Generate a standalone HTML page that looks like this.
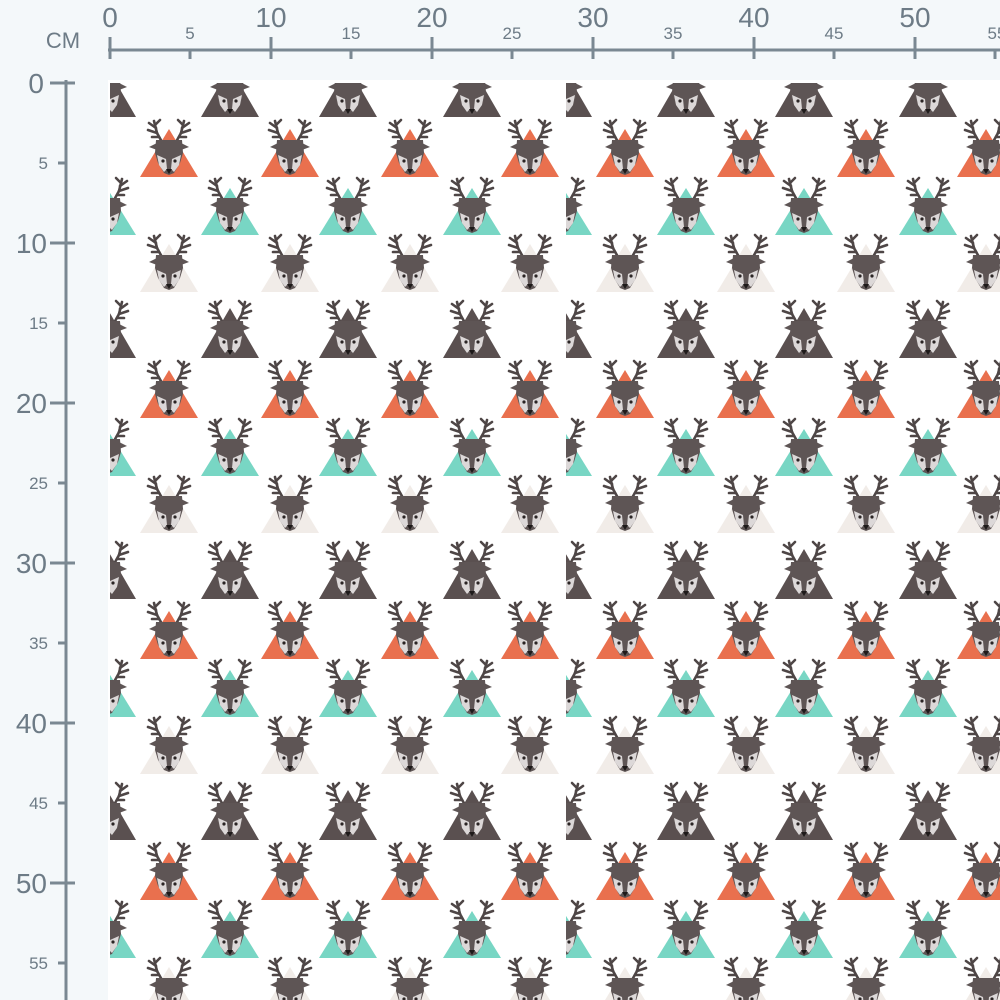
<!DOCTYPE html>
<html><head><meta charset="utf-8"><style>
html,body{margin:0;padding:0;background:#f4f8fa;}
svg{display:block}
text{font-family:"Liberation Sans",sans-serif;fill:#6d7b86}
</style></head><body>
<svg width="1000" height="1000" viewBox="0 0 1000 1000" xmlns="http://www.w3.org/2000/svg">
<defs>
<g id="ant" fill="none" stroke="#4e4646" stroke-width="2.6" stroke-linecap="round">
<path d="M-7,-35 L-12,-44 L-15,-56"/>
<path d="M-12,-44 L-21,-47"/>
<path d="M-13,-49 L-20,-54"/>
<path d="M-14,-52 L-9,-57"/>
<path d="M-10,-40 L-17,-40"/>
</g>
<g id="deer">
<use href="#ant"/>
<use href="#ant" transform="scale(-1,1)"/>
<polygon points="-13,-37 13,-37 14,-24 11,-14 5,-4 0,-2 -5,-4 -11,-14 -14,-24" fill="#5e5555"/>
<polygon points="-12,-34 -20,-30 -12,-27" fill="#5e5555"/>
<polygon points="12,-34 20,-30 12,-27" fill="#5e5555"/>
<polygon points="-12,-22 -3,-18 -2,-8 -5,-5 -10,-12" fill="#dcd8d8"/>
<polygon points="12,-22 3,-18 2,-8 5,-5 10,-12" fill="#dcd8d8"/>
<circle cx="-6" cy="-16" r="1.6" fill="#2a2424"/>
<circle cx="6" cy="-16" r="1.6" fill="#2a2424"/>
<polygon points="-3,-8 3,-8 0,-3" fill="#1e1a1a"/>
</g>
<g id="tD"><polygon points="0,-50 -29,0 29,0" fill="#5a5050"/><use href="#deer"/></g>
<g id="tO"><polygon points="0,-48 -29,0 29,0" fill="#e9704e"/><use href="#deer"/></g>
<g id="tT"><polygon points="0,-47 -29,0 29,0" fill="#78d6c4"/><use href="#deer"/></g>
<g id="tL"><polygon points="0,-48 -29,0 29,0" fill="#f1ece8"/><use href="#deer"/></g>
<pattern id="p" x="110" y="67" width="456" height="241" patternUnits="userSpaceOnUse">
<rect width="456" height="241" fill="#fff"/>
<use href="#tD" x="-3" y="50"/><use href="#tD" x="120" y="50"/><use href="#tD" x="238" y="50"/><use href="#tD" x="362" y="50"/>
<use href="#tO" x="59" y="110"/><use href="#tO" x="180" y="110"/><use href="#tO" x="300" y="110"/><use href="#tO" x="420" y="110"/>
<use href="#tT" x="-3" y="168"/><use href="#tT" x="120" y="168"/><use href="#tT" x="238" y="168"/><use href="#tT" x="362" y="168"/>
<use href="#tL" x="59" y="225"/><use href="#tL" x="180" y="225"/><use href="#tL" x="300" y="225"/><use href="#tL" x="420" y="225"/>
<use href="#tD" x="-3" y="291"/><use href="#tD" x="120" y="291"/><use href="#tD" x="238" y="291"/><use href="#tD" x="362" y="291"/>
</pattern>
</defs>
<rect x="0" y="0" width="1000" height="1000" fill="#f4f8fa"/>
<rect x="108" y="80" width="892" height="920" fill="#fff"/>
<rect x="110" y="83" width="890" height="917" fill="url(#p)"/>
<g stroke="#7a8892" stroke-width="3">
<line x1="108" y1="50" x2="1000" y2="50"/>
<line x1="110" y1="37" x2="110" y2="59"/>
<line x1="271" y1="37" x2="271" y2="59"/>
<line x1="432" y1="37" x2="432" y2="59"/>
<line x1="593" y1="37" x2="593" y2="59"/>
<line x1="754" y1="37" x2="754" y2="59"/>
<line x1="915" y1="37" x2="915" y2="59"/>
<line x1="190" y1="50" x2="190" y2="59"/>
<line x1="351" y1="50" x2="351" y2="59"/>
<line x1="512" y1="50" x2="512" y2="59"/>
<line x1="673" y1="50" x2="673" y2="59"/>
<line x1="834" y1="50" x2="834" y2="59"/>
<line x1="995" y1="50" x2="995" y2="59"/>
<line x1="66" y1="80" x2="66" y2="1000"/>
<line x1="50" y1="83" x2="75" y2="83"/>
<line x1="50" y1="243" x2="75" y2="243"/>
<line x1="50" y1="403" x2="75" y2="403"/>
<line x1="50" y1="563" x2="75" y2="563"/>
<line x1="50" y1="723" x2="75" y2="723"/>
<line x1="50" y1="883" x2="75" y2="883"/>
<line x1="58" y1="163" x2="66" y2="163"/>
<line x1="58" y1="323" x2="66" y2="323"/>
<line x1="58" y1="483" x2="66" y2="483"/>
<line x1="58" y1="643" x2="66" y2="643"/>
<line x1="58" y1="803" x2="66" y2="803"/>
<line x1="58" y1="963" x2="66" y2="963"/>
</g>
<g font-size="28" text-anchor="middle">
<text x="110" y="27">0</text><text x="271" y="27">10</text><text x="432" y="27">20</text>
<text x="593" y="27">30</text><text x="754" y="27">40</text><text x="915" y="27">50</text>
</g>
<g font-size="17" text-anchor="middle">
<text x="190" y="39">5</text><text x="351" y="39">15</text><text x="512" y="39">25</text>
<text x="673" y="39">35</text><text x="834" y="39">45</text><text x="997" y="39">55</text>
</g>
<text x="63" y="48" font-size="22" text-anchor="middle">CM</text>
<g font-size="28" text-anchor="end">
<text x="44" y="93">0</text><text x="47" y="253">10</text><text x="47" y="413">20</text>
<text x="47" y="573">30</text><text x="47" y="733">40</text><text x="47" y="893">50</text>
</g>
<g font-size="17" text-anchor="end">
<text x="48" y="169">5</text><text x="48" y="329">15</text><text x="48" y="489">25</text>
<text x="48" y="649">35</text><text x="48" y="809">45</text><text x="48" y="969">55</text>
</g>
</svg>
</body></html>
